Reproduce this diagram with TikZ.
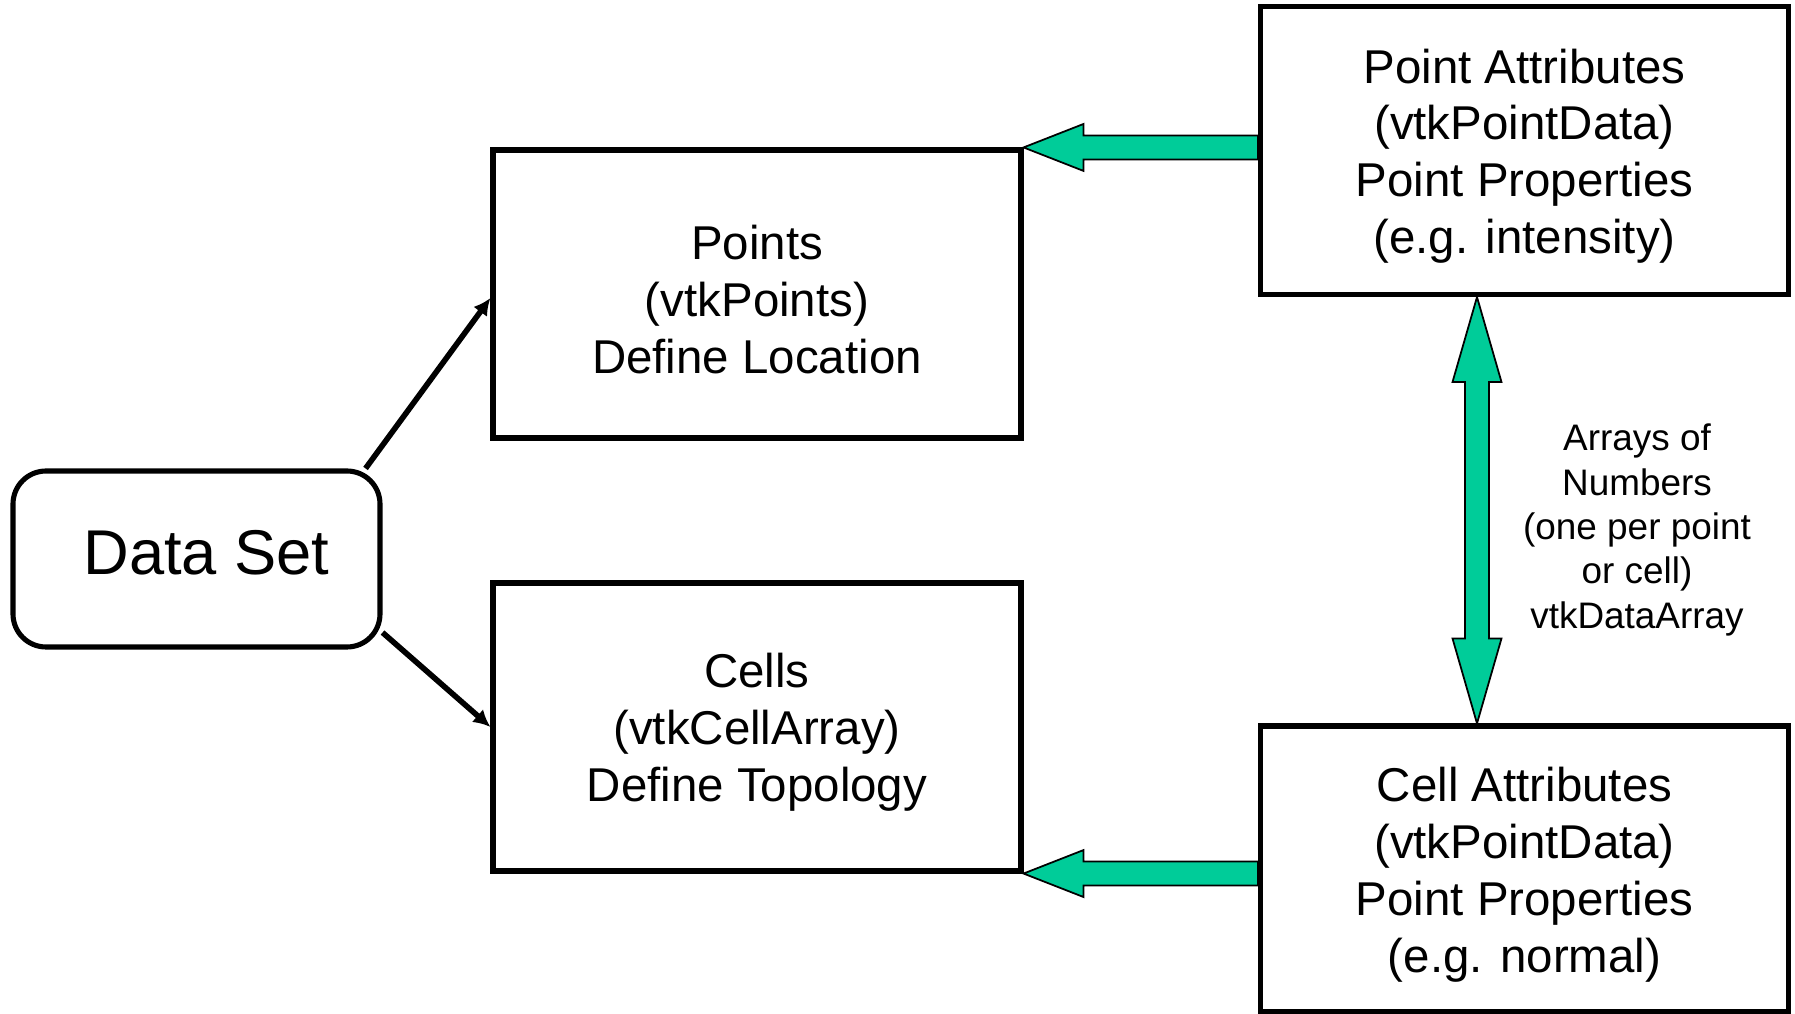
\documentclass[tikz,border=0pt]{standalone}
\usepackage{fontspec}
\setmainfont{Liberation Sans}
\usepackage{tikz}
\usetikzlibrary{positioning,arrows.meta,calc}

\definecolor{vtkgreen}{RGB}{0,204,153}
\newcommand{\toppad}{\rule{0pt}{13pt}}

\tikzset{
  boxnode/.style={draw, line width=1.45pt, minimum width=5.28cm, minimum height=2.88cm,
    align=center, inner sep=4pt, font=\fontsize{13.5}{16.2}\selectfont},
  fatarrow/.style={draw=black, line width=0.5pt, fill=vtkgreen, line join=miter},
  linkarrow/.style={line width=1.6pt, -{Latex[length=0.17cm, width=0.17cm]}}
}

\begin{document}
\begin{tikzpicture}
    \useasboundingbox (0,0) rectangle (17.95,-10.14);
    % left hand side
    \node[draw, line width=1.45pt, rounded corners=0.33cm, minimum width=3.67cm,
          minimum height=1.76cm, font=\fontsize{18}{21.6}\selectfont]
      (DS) at (1.965,-5.59) {\raisebox{0.06cm}[\height][\depth]{\hspace*{0.2cm}Data Set}};
    \node[boxnode] (Pts) at (7.57,-2.94) {\toppad Points\\(vtkPoints)\\Define Location};
    \node[boxnode] (Cls) at (7.57,-7.27) {\toppad Cells\\(vtkCellArray)\\Define Topology};
    % attribute boxes
    \node[boxnode] (PA) at (15.245,-1.505)
      {\toppad Point Attributes\\(vtkPointData)\\Point Properties\\(e.g. intensity)};
    \node[boxnode, minimum height=2.86cm] (CA) at (15.245,-8.69)
      {\toppad Cell Attributes\\(vtkPointData)\\Point Properties\\(e.g. normal)};
    \node[align=center, font=\fontsize{10.5}{12.6}\selectfont]
      (arr) at (16.37,-5.30)
      {Arrays of\\Numbers\\(one per point\\or cell)\\vtkDataArray};

    \draw[linkarrow] ([xshift=-0.17cm]DS.north east) -- ([yshift=-0.04cm]Pts.west);
    \draw[linkarrow] ([yshift=0.17cm]DS.south east) -- (Cls.west);

    % block arrows
    \draw[fatarrow] ($(Pts.north east -| PA.west)+(0,0.12)$)
      -- ($(Pts.north east)+(0.6,0.12)$) -- ($(Pts.north east)+(0.6,0.235)$)
      -- (Pts.north east)
      -- ($(Pts.north east)+(0.6,-0.235)$) -- ($(Pts.north east)+(0.6,-0.12)$)
      -- ($(Pts.north east -| PA.west)+(0,-0.12)$) -- cycle;
    \draw[fatarrow] ($(Cls.south east -| CA.west)+(0,0.12)$)
      -- ($(Cls.south east)+(0.6,0.12)$) -- ($(Cls.south east)+(0.6,0.235)$)
      -- (Cls.south east)
      -- ($(Cls.south east)+(0.6,-0.235)$) -- ($(Cls.south east)+(0.6,-0.12)$)
      -- ($(Cls.south east -| CA.west)+(0,-0.12)$) -- cycle;
    \coordinate (vt) at ([xshift=-0.475cm]PA.south);
    \coordinate (vb) at ([xshift=-0.475cm]CA.north);
    \draw[fatarrow] (vt) -- ($(vt)+(0.245,-0.85)$) -- ($(vt)+(0.12,-0.85)$)
      -- ($(vb)+(0.12,0.85)$) -- ($(vb)+(0.245,0.85)$) -- (vb)
      -- ($(vb)+(-0.245,0.85)$) -- ($(vb)+(-0.12,0.85)$)
      -- ($(vt)+(-0.12,-0.85)$) -- ($(vt)+(-0.245,-0.85)$) -- cycle;
\end{tikzpicture}
\end{document}
